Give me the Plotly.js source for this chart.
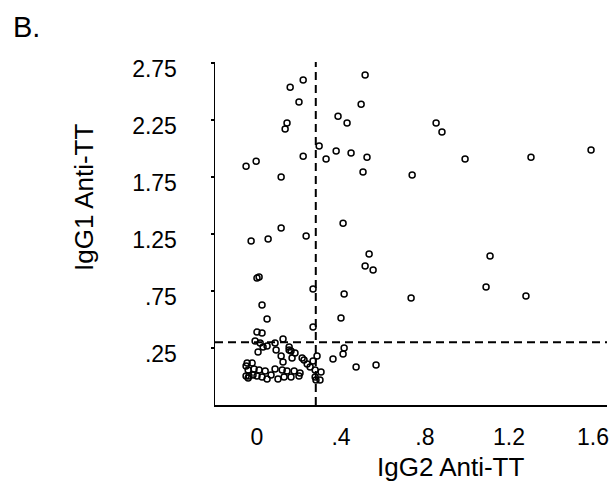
<!DOCTYPE html>
<html>
<head>
<meta charset="utf-8">
<script src="https://cdn.plot.ly/plotly-3.0.1.min.js"></script>
<style>html,body{margin:0;padding:0;background:#fff;}#chart{width:614px;height:494px;}</style>
</head>
<body>
<div id="chart"></div>
<script>
// IgG2 Anti-TT (x) and IgG1 Anti-TT (y) values
const igg2 = [
  0.515, 0.220, 0.158, 0.200, 0.496, 0.386, 0.429, 0.143, 0.134, 0.296,
  0.377, 0.448, 0.220, 0.329, 0.524, -0.004, -0.052, 0.505, 0.115, 0.853,
  0.881, 0.991, 1.305, 1.591, 0.739, 0.115, 0.410, -0.028, 0.053, 0.234,
  0.534, 0.515, 0.553, 0.010, 0.000, 0.267, 0.415, 1.110, 1.091, 1.281,
  0.734, 0.024, 0.048, 0.400, 0.267, 0.000, 0.024, -0.009, 0.015, 0.048,
  0.086, 0.124, 0.005, 0.029, 0.091, 0.153, 0.153, 0.181, 0.115, 0.415,
  0.410, 0.286, 0.167, 0.215, 0.124, 0.362, 0.267, 0.239, 0.253, 0.472,
  0.567, -0.047, -0.023, -0.052, -0.042, -0.014, 0.010, 0.039, 0.086, 0.120,
  0.143, 0.177, 0.205, 0.277, 0.305, 0.277, -0.052, -0.038, -0.019, 0.000,
  0.024, 0.048, 0.067, 0.100, 0.129, 0.162, 0.200, -0.042, 0.281, 0.300,
  0.162, 0.224
];
const igg1 = [
  2.645, 2.601, 2.539, 2.408, 2.390, 2.285, 2.224, 2.224, 2.171, 2.022,
  1.978, 1.961, 1.934, 1.908, 1.925, 1.890, 1.846, 1.794, 1.750, 2.224,
  2.145, 1.908, 1.925, 1.987, 1.768, 1.303, 1.346, 1.189, 1.206, 1.232,
  1.075, 0.969, 0.934, 0.873, 0.864, 0.768, 0.724, 1.057, 0.785, 0.706,
  0.689, 0.627, 0.504, 0.513, 0.434, 0.390, 0.381, 0.311, 0.294, 0.268,
  0.294, 0.329, 0.215, 0.259, 0.232, 0.259, 0.232, 0.206, 0.180, 0.250,
  0.197, 0.180, 0.162, 0.162, 0.127, 0.154, 0.136, 0.110, 0.083, 0.083,
  0.101, 0.118, 0.118, 0.092, 0.057, 0.066, 0.057, 0.048, 0.066, 0.057,
  0.048, 0.048, 0.031, 0.057, 0.039, -0.004, 0.004, 0.004, 0.013, 0.004,
  -0.004, -0.022, 0.013, -0.022, -0.004, -0.004, 0.004, -0.013, -0.031, -0.031,
  0.224, 0.145
];
const xTickVals = [0, 0.4, 0.8, 1.2, 1.6];
const xTickText = ['0', '.4', '.8', '1.2', '1.6'];
const yTickVals = [0.25, 0.75, 1.25, 1.75, 2.25, 2.75];
const yTickText = ['.25', '.75', '1.25', '1.75', '2.25', '2.75'];
const xTitle = 'IgG2 Anti-TT';
const yTitle = 'IgG1 Anti-TT';
const panelLabel = 'B.';
const cutX = 0.28;
const cutY = 0.30;

const font = 'Arial, "Liberation Sans", sans-serif';

const trace = {
  x: igg2, y: igg1, type: 'scatter', mode: 'markers',
  marker: {symbol: 'circle-open', size: 6, color: '#000', line: {width: 1.5, color: '#000'}},
  hoverinfo: 'skip', showlegend: false
};

const layout = {
  width: 614, height: 494,
  margin: {l: 215, r: 7, t: 62, b: 89},
  paper_bgcolor: '#fff', plot_bgcolor: '#fff',
  font: {family: font, color: '#000'},
  title: {text: panelLabel, x: 13/614, xanchor: 'left', xref: 'container', y: 1 - 27/494, yanchor: 'middle', yref: 'container', font: {size: 29, family: font, color: '#000'}},
  xaxis: {
    range: [-0.2, 1.667], showgrid: false, zeroline: false,
    showline: true, linecolor: '#000', linewidth: 1.5,
    tickmode: 'array', tickvals: xTickVals, ticktext: xTickText,
    ticks: '', ticklabelstandoff: 11,
    tickfont: {size: 23, family: font, color: '#000'}
  },
  yaxis: {
    range: [-0.25, 2.76], showgrid: false, zeroline: false,
    showline: true, linecolor: '#000', linewidth: 1.5,
    tickmode: 'array', tickvals: yTickVals, ticktext: yTickText,
    ticks: 'outside', ticklen: 3, tickwidth: 2, tickcolor: '#000',
    ticklabelstandoff: 29, ticklabelshift: 6,
    tickfont: {size: 23, family: font, color: '#000'}
  },
  annotations: [
    {text: xTitle, xref: 'paper', yref: 'paper', x: (450 - 215) / 392, y: (405 - 467) / 343,
     xanchor: 'center', yanchor: 'middle', showarrow: false, font: {size: 26, family: font, color: '#000'}},
    {text: yTitle, xref: 'paper', yref: 'paper', x: (84 - 215) / 392, y: (405 - 198) / 343,
     xanchor: 'center', yanchor: 'middle', textangle: -90, showarrow: false, font: {size: 26, family: font, color: '#000'}}
  ],
  shapes: [
    {type: 'line', xref: 'x', yref: 'paper', x0: cutX, x1: cutX, y0: 0, y1: 1, line: {color: '#000', width: 2, dash: '8px,5px'}},
    {type: 'line', xref: 'paper', yref: 'y', x0: 0, x1: 1, y0: cutY, y1: cutY, line: {color: '#000', width: 2, dash: '8px,5px'}}
  ]
};

Plotly.newPlot('chart', [trace], layout, {staticPlot: true, displayModeBar: false});
</script>
</body>
</html>
